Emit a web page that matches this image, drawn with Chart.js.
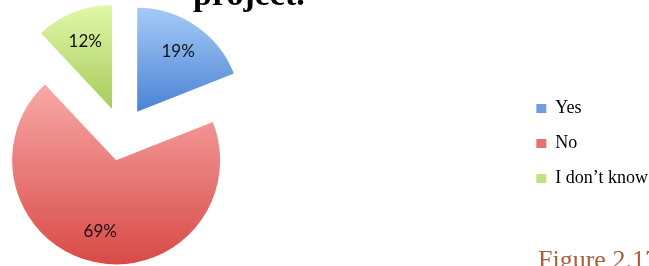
<!DOCTYPE html>
<html>
<head>
<meta charset="utf-8">
<script src="https://cdn.jsdelivr.net/npm/chart.js@4.4.1/dist/chart.umd.min.js"></script>
<style>
  html, body { margin: 0; padding: 0; background: #fff; overflow: hidden; }
  #wrap { position: relative; width: 649px; height: 266px; }
  #pieChart { position: absolute; left: 0; top: 0; }
  .txt { position: absolute; white-space: nowrap; line-height: 1; font-family: "Liberation Serif", serif; }
  #heading { left: 193px; top: -23px; font-size: 34px; font-weight: bold; color: #000; }
  #caption { left: 538px; top: 247px; font-size: 26px; color: #a9603d; }
</style>
</head>
<body>
<div id="wrap">
  <canvas id="pieChart" width="649" height="266"></canvas>
  <div class="txt" id="heading">project.</div>
  <div class="txt" id="caption">Figure 2.17</div>
</div>
<script>
const categories = ['Yes', 'No', 'I don\u2019t know'];
const shares = [19, 69, 12];

// top / middle / bottom shade of each slice
const sliceColors = [
    ['#a6caf8', '#6f9fe3', '#4a83d3'],
    ['#f8a9a7', '#e8706d', '#d84a46'],
    ['#e0f8a8', '#c2e27f', '#a8cb5c']
];
const explode = 27;     // distance each slice is pulled out
const pieWidth = 244;   // width of the area the pie sits in

function sliceGradient(context) {
    const chart = context.chart;
    const c = sliceColors[context.dataIndex];
    const arc = chart.getDatasetMeta(0).data[context.dataIndex];
    if (!arc || !arc.outerRadius) return c[1];
    const y = arc.y, r = arc.outerRadius;
    let top = y, bottom = y;
    for (let k = 0; k <= 60; k++) {
        const a = arc.startAngle + (arc.endAngle - arc.startAngle) * k / 60;
        const py = y + Math.sin(a) * r;
        top = Math.min(top, py);
        bottom = Math.max(bottom, py);
    }
    const g = chart.ctx.createLinearGradient(0, top, 0, bottom);
    g.addColorStop(0, c[0]);
    g.addColorStop(1, c[2]);
    return g;
}

// pie on the left, legend stays on the right
const pieArea = {
    id: 'pieArea',
    afterLayout(chart) {
        const a = chart.chartArea;
        a.left = 0;
        a.right = pieWidth;
        a.width = pieWidth;
    }
};

// pull every slice out along its middle angle
const explodeSlices = {
    id: 'explodeSlices',
    afterDatasetUpdate(chart) {
        chart.getDatasetMeta(0).data.forEach((arc) => {
            const mid = (arc.startAngle + arc.endAngle) / 2;
            arc.x += Math.cos(mid) * explode;
            arc.y += Math.sin(mid) * explode;
        });
    }
};

const pieLabels = {
    id: 'pieLabels',
    afterDatasetsDraw(chart) {
        const ctx = chart.ctx;
        const meta = chart.getDatasetMeta(0);
        ctx.save();
        ctx.font = '17px Lato';
        ctx.fillStyle = '#111';
        ctx.textAlign = 'center';
        ctx.textBaseline = 'middle';
        meta.data.forEach((arc, i) => {
            const mid = (arc.startAngle + arc.endAngle) / 2;
            const d = arc.outerRadius * 0.7;
            ctx.fillText(shares[i] + '%', arc.x + Math.cos(mid) * d, arc.y + Math.sin(mid) * d);
        });
        ctx.restore();
    }
};

const ctx = document.getElementById('pieChart');

const data = {
    labels: categories,
    datasets: [
        {
            data: shares,
            backgroundColor: sliceGradient,
            borderWidth: 0,
            hoverOffset: 0
        }
    ]
};

const config = {
    type: 'pie',
    data: data,
    options: {
        responsive: false,
        animation: false,
        radius: 104,
        layout: {
            padding: { right: -9, top: 2, bottom: 0 }
        },
        plugins: {
            tooltip: { enabled: false },
            legend: {
                position: 'right',
                title: {
                    display: true,
                    text: ' ',
                    padding: 0,
                    font: { size: 16 }
                },
                labels: {
                    boxWidth: 10,
                    boxHeight: 9,
                    padding: 17,
                    color: '#000',
                    font: { family: 'Liberation Serif', size: 18 },
                    generateLabels(chart) {
                        const items = Chart.overrides.pie.plugins.legend.labels.generateLabels(chart);
                        items.forEach((item, i) => {
                            item.fillStyle = sliceColors[i][1];
                            item.lineWidth = 0;
                        });
                        return items;
                    }
                }
            }
        }
    },
    plugins: [pieArea, explodeSlices, pieLabels]
};
var chart = new Chart(ctx, config);
chart.update();
</script>
</body>
</html>
